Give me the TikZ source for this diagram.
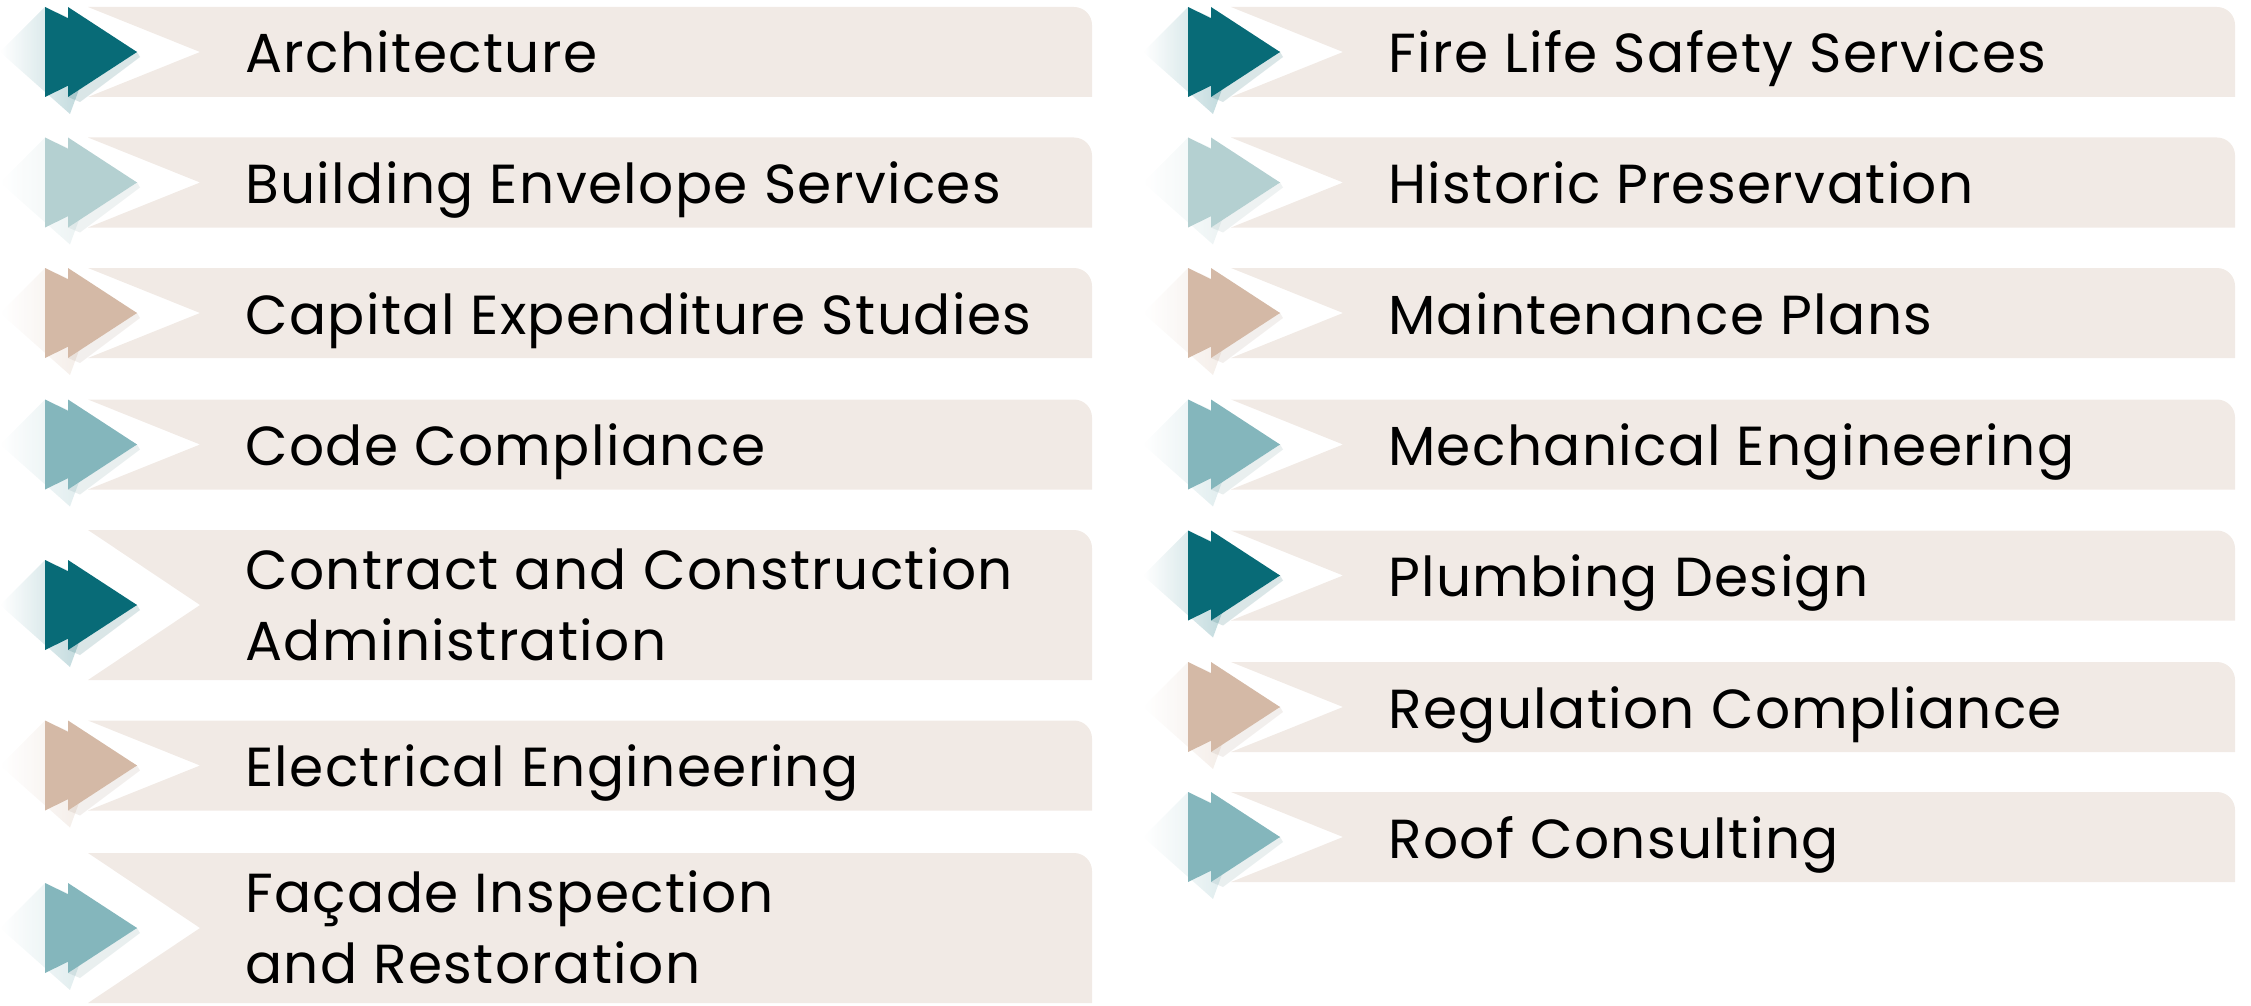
\documentclass[tikz,border=0pt]{standalone}
\usepackage{fontspec}
\setmainfont{Poppins}[LetterSpace=2.5]
\definecolor{bar}{HTML}{F1EAE5}
\definecolor{cA}{HTML}{086B77}
\definecolor{cB}{HTML}{B4D0D1}
\definecolor{cC}{HTML}{D4B9A6}
\definecolor{cD}{HTML}{84B6BC}
\tikzset{lbl/.style={anchor=base west,font=\fontsize{55}{70}\selectfont,text=black,inner sep=0}}
\newcommand{\svcshape}[4]{% x0, ycenter, halfheight, color
\fill[bar] (88,#3) -- (1074,#3) arc[start angle=90,end angle=0,radius=18] -- (1092,-#3) -- (88,-#3) -- (200,0) -- cycle;
\shade[left color=white, right color=#4!45, opacity=0.7] (0,0) -- (45,45) -- (100,20) -- (70,-62) -- cycle;
\fill[#4] (45,45) -- (137,0) -- (45,-45) -- cycle;
\fill[#4!80!black, opacity=0.15] (68,-45) -- (137,0) -- (140,-5) -- (80,-50) -- cycle;
\fill[#4] (68,45) -- (137,0) -- (68,-45) -- cycle;}
\newcommand{\svc}[5]{% name, x0, ycenter, color, text
\begin{scope}[shift={(#2pt,-#3pt)},x=1pt,y=1pt]
\svcshape{#2}{#3}{45}{#4}
\node[lbl] (#1) at (245,-21) {#5};
\end{scope}}
\newcommand{\svcb}[6]{% name, x0, ycenter, color, line1, line2
\begin{scope}[shift={(#2pt,-#3pt)},x=1pt,y=1pt]
\svcshape{#2}{#3}{75}{#4}
\node[lbl] (#1) at (245,16) {#5};
\node[lbl] (#1b) at (245,-55) {#6};
\end{scope}}
\begin{document}
\begin{tikzpicture}
\useasboundingbox (0,0) rectangle (2251pt,-1006pt);
\svc{a1}{0}{52}{cA}{Architecture}
\svc{a2}{0}{182.5}{cB}{Building Envelope Services}
\svc{a3}{0}{313}{cC}{Capital Expenditure Studies}
\svc{a4}{0}{444.5}{cD}{Code Compliance}
\svcb{a5}{0}{605}{cA}{Contract and Construction}{Administration}
\svc{a6}{0}{765.5}{cC}{Electrical Engineering}
\svcb{a7}{0}{928}{cD}{Façade Inspection}{and Restoration}
\svc{b1}{1143}{52}{cA}{Fire Life Safety Services}
\svc{b2}{1143}{182.5}{cB}{Historic Preservation}
\svc{b3}{1143}{313}{cC}{Maintenance Plans}
\svc{b4}{1143}{444.5}{cD}{Mechanical Engineering}
\svc{b5}{1143}{575.5}{cA}{Plumbing Design}
\svc{b6}{1143}{707}{cC}{Regulation Compliance}
\svc{b7}{1143}{837}{cD}{Roof Consulting}
\end{tikzpicture}
\end{document}
